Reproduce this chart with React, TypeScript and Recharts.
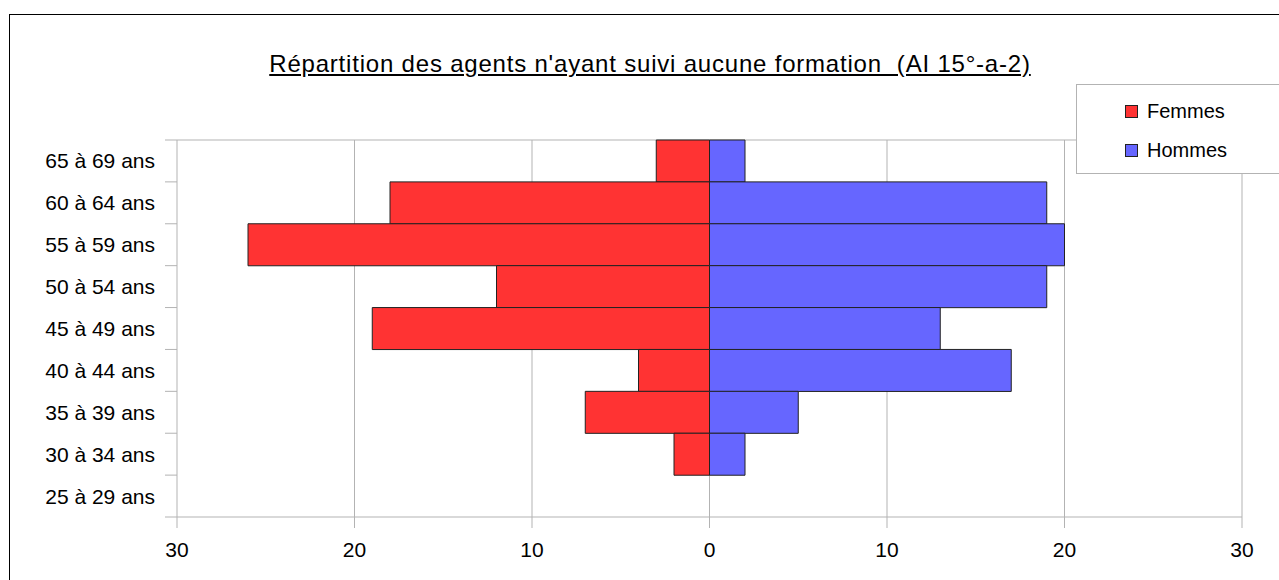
import React from 'react';
import { BarChart, Bar, XAxis, YAxis, CartesianGrid } from 'recharts';

const ageGroups = [
  '65 à 69 ans',
  '60 à 64 ans',
  '55 à 59 ans',
  '50 à 54 ans',
  '45 à 49 ans',
  '40 à 44 ans',
  '35 à 39 ans',
  '30 à 34 ans',
  '25 à 29 ans',
];
const femmes = [3, 18, 26, 12, 19, 4, 7, 2, 0];
const hommes = [2, 19, 20, 19, 13, 17, 5, 2, 0];
const xTicks = [-30, -20, -10, 0, 10, 20, 30];

const seriesNames = ['Femmes', 'Hommes'];
const seriesColors = ['#ff3333', '#6666ff'];

const FONT = '"Liberation Sans", Arial, sans-serif';
const GRID = '#b3b3b3';

const CHART_W = 1279;
const CHART_H = 580;
const MARGIN = { top: 140, right: 37, bottom: 0, left: 0 };
const X_AXIS_H = 63;
const PLOT_H = CHART_H - MARGIN.top - MARGIN.bottom - X_AXIS_H;

// femmes go to the left, so they are stored as negative values
const data = ageGroups.map((age, i) => ({
  age,
  Femmes: -femmes[i],
  Hommes: hommes[i],
}));

const AgeTick = (props: any) => {
  const { x, y, payload, index } = props;
  const band = PLOT_H / ageGroups.length;
  const last = index === ageGroups.length - 1;
  return (
    <g>
      <line x1={x - 12} x2={x} y1={y - band / 2} y2={y - band / 2} stroke={GRID} strokeWidth={1} />
      {last && <line x1={x - 12} x2={x} y1={y + band / 2} y2={y + band / 2} stroke={GRID} strokeWidth={1} />}
      <text x={x - 22} y={y} textAnchor="end" dominantBaseline="central" fontFamily={FONT} fontSize={21} fill="#000">
        {payload.value}
      </text>
    </g>
  );
};

const App: React.FC = () => {
  return (
    <div style={{ position: 'absolute', left: 0, top: 0, width: CHART_W, height: CHART_H, overflow: 'hidden', background: '#fff' }}>
      <div style={{ position: 'absolute', left: 9, top: 14, width: 1400, height: 700, border: '1px solid #000', boxSizing: 'border-box' }} />
      <div
        style={{
          position: 'absolute',
          left: 0,
          width: 1300,
          top: 50,
          textAlign: 'center',
          fontFamily: FONT,
          fontSize: 24,
          letterSpacing: 0.8,
          textDecoration: 'underline',
          whiteSpace: 'pre',
          color: '#000',
        }}
      >
        {'Répartition des agents n\'ayant suivi aucune formation  (AI 15°-a-2)'}
      </div>

      <div style={{ position: 'absolute', left: 0, top: 0 }}>
        <BarChart
          width={CHART_W}
          height={CHART_H}
          data={data}
          layout="vertical"
          stackOffset="sign"
          barCategoryGap={0}
          margin={MARGIN}
        >
          <CartesianGrid
            stroke={GRID}
            strokeWidth={1}
            horizontalCoordinatesGenerator={({ offset }: any) => [offset.top]}
          />
          <XAxis
            type="number"
            domain={[-30, 30]}
            ticks={xTicks}
            height={X_AXIS_H}
            tickFormatter={(v: number) => String(Math.abs(v))}
            tickSize={11}
            tickMargin={14}
            axisLine={{ stroke: GRID }}
            tickLine={{ stroke: GRID }}
            tick={{ fill: '#000', fontSize: 21, fontFamily: FONT }}
          />
          <YAxis
            type="category"
            dataKey="age"
            width={177}
            tickSize={0}
            tickMargin={0}
            tickLine={false}
            axisLine={false}
            interval={0}
            tick={<AgeTick />}
          />
          <Bar dataKey="Femmes" stackId="a" fill={seriesColors[0]} stroke="#222" strokeWidth={1} isAnimationActive={false} />
          <Bar dataKey="Hommes" stackId="a" fill={seriesColors[1]} stroke="#222" strokeWidth={1} isAnimationActive={false} />
        </BarChart>
      </div>

      <div
        style={{
          position: 'absolute',
          left: 1076,
          top: 84,
          width: 210,
          height: 90,
          border: `1px solid ${GRID}`,
          boxSizing: 'border-box',
          background: '#fff',
          fontFamily: FONT,
          fontSize: 20,
          color: '#000',
        }}
      >
        {seriesNames.map((name, i) => (
          <div key={name} style={{ position: 'absolute', left: 48, top: 13 + i * 39, display: 'flex', alignItems: 'center', height: 26 }}>
            <span
              style={{
                display: 'inline-block',
                width: 13,
                height: 13,
                background: seriesColors[i],
                border: '1px solid #222',
                boxSizing: 'border-box',
                marginRight: 9,
              }}
            />
            <span>{name}</span>
          </div>
        ))}
      </div>
    </div>
  );
};

export default App;
